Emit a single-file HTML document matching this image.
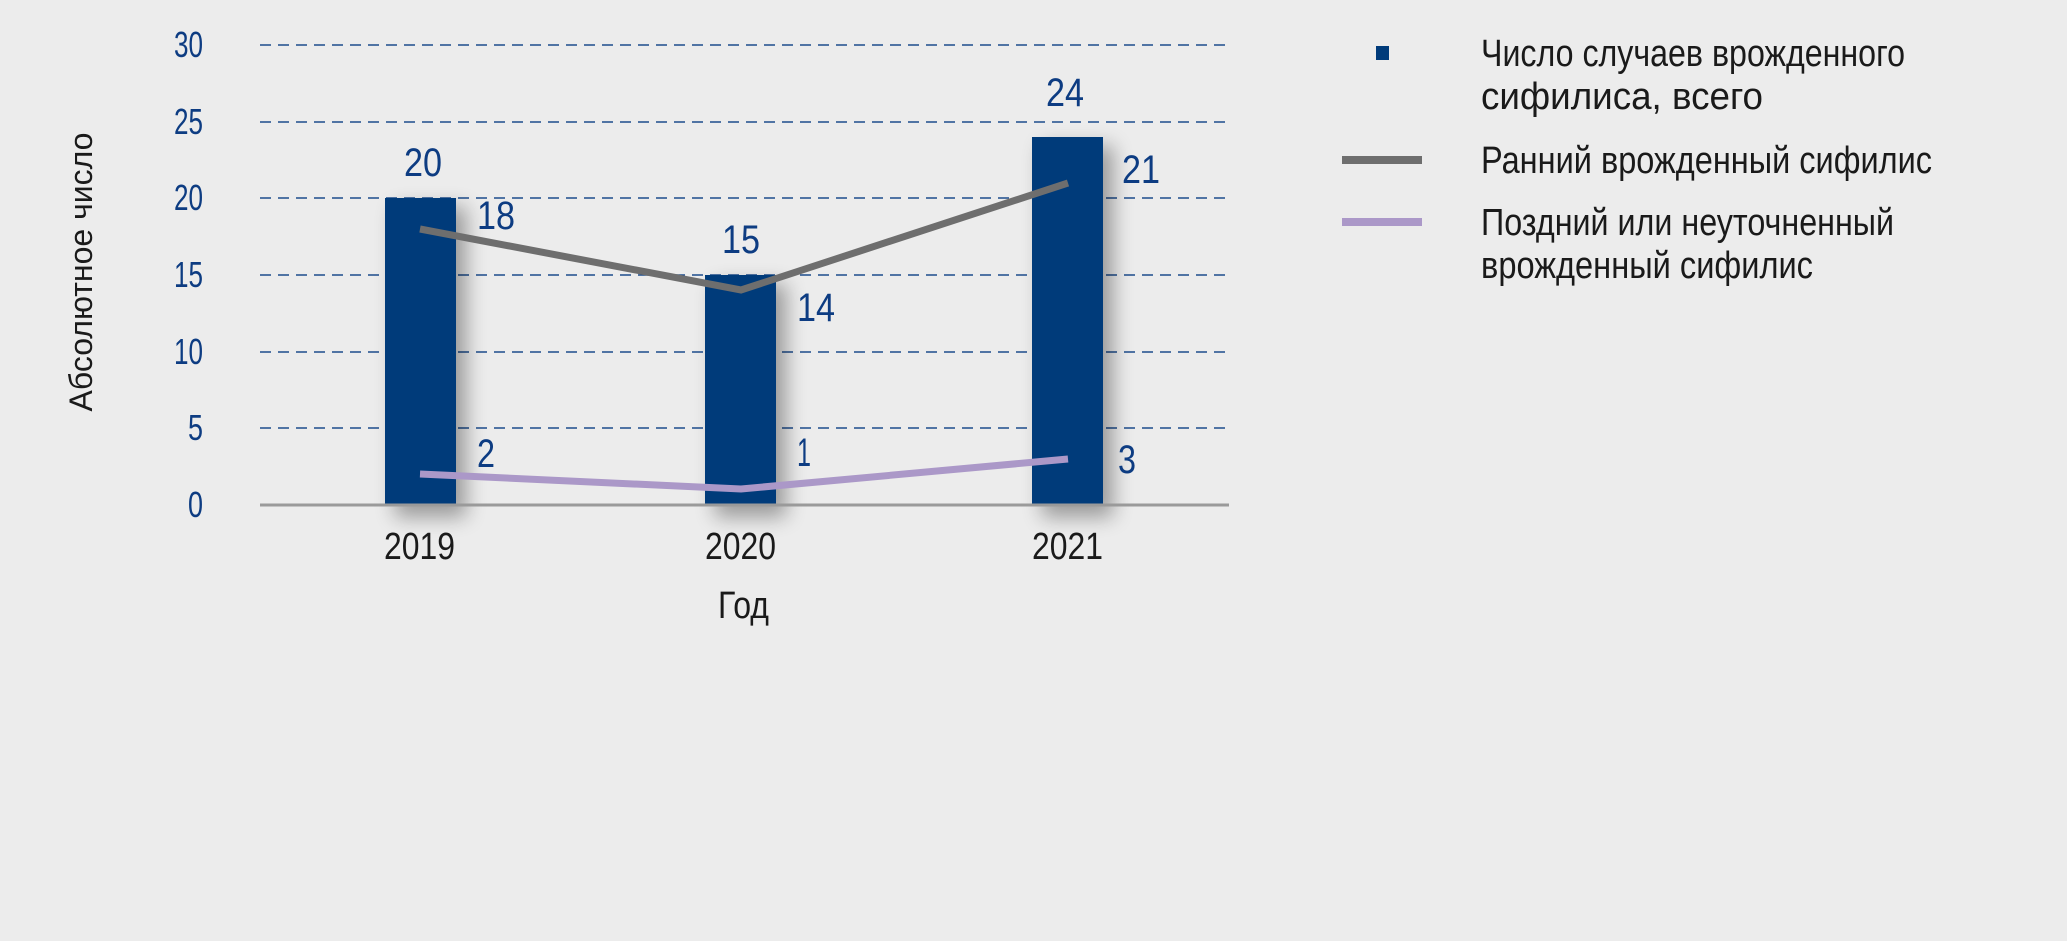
<!DOCTYPE html>
<html><head><meta charset="utf-8"><style>
body{margin:0;background:#ececec;}
svg{display:block}
.n{font-family:"Liberation Sans",sans-serif;}
</style></head><body>
<svg width="2067" height="941" viewBox="0 0 2067 941" xmlns="http://www.w3.org/2000/svg">
<defs><filter id="sh" x="-100%" y="-20%" width="300%" height="140%"><feGaussianBlur stdDeviation="10"/></filter></defs>
<rect width="2067" height="941" fill="#ececec"/>
<g stroke="#1d4c8c" stroke-width="1.6" stroke-dasharray="11,7">
<line x1="260" x2="1227" y1="45" y2="45"/><line x1="260" x2="1227" y1="122" y2="122"/>
<line x1="260" x2="1227" y1="198" y2="198"/><line x1="260" x2="1227" y1="275" y2="275"/>
<line x1="260" x2="1227" y1="352" y2="352"/><line x1="260" x2="1227" y1="428" y2="428"/>
</g>
<g fill="#000" opacity="0.35" filter="url(#sh)">
<rect x="395" y="207" width="71" height="310"/><rect x="715" y="284" width="71" height="233"/><rect x="1042" y="146" width="71" height="371"/>
</g>
<g fill="#003b7a">
<rect x="385" y="198" width="71" height="307"/><rect x="705" y="275" width="71" height="230"/><rect x="1032" y="137" width="71" height="368"/>
</g>
<line x1="260" x2="1229" y1="505" y2="505" stroke="#9a9a9a" stroke-width="3"/>
<polyline points="420,229 741,290 1068,183" fill="none" stroke="#6e6e6e" stroke-width="7"/>
<polyline points="420,474 741,489 1068,459" fill="none" stroke="#ab98c8" stroke-width="7"/>
<g class="n" font-size="36" fill="#0d3c82" lengthAdjust="spacingAndGlyphs">
<text x="174" y="57" textLength="29" lengthAdjust="spacingAndGlyphs">30</text>
<text x="174" y="134" textLength="29" lengthAdjust="spacingAndGlyphs">25</text>
<text x="174" y="210" textLength="29" lengthAdjust="spacingAndGlyphs">20</text>
<text x="174" y="287" textLength="29" lengthAdjust="spacingAndGlyphs">15</text>
<text x="174" y="364" textLength="29" lengthAdjust="spacingAndGlyphs">10</text>
<text x="188" y="440" textLength="15" lengthAdjust="spacingAndGlyphs">5</text>
<text x="188" y="517" textLength="15" lengthAdjust="spacingAndGlyphs">0</text>
</g>
<g class="n" font-size="40" fill="#0d3c82">
<text x="404" y="176" textLength="38" lengthAdjust="spacingAndGlyphs">20</text>
<text x="477" y="229" textLength="38" lengthAdjust="spacingAndGlyphs">18</text>
<text x="722" y="253" textLength="38" lengthAdjust="spacingAndGlyphs">15</text>
<text x="797" y="321" textLength="38" lengthAdjust="spacingAndGlyphs">14</text>
<text x="1046" y="106" textLength="38" lengthAdjust="spacingAndGlyphs">24</text>
<text x="1122" y="183" textLength="38" lengthAdjust="spacingAndGlyphs">21</text>
<text x="477" y="467" textLength="18" lengthAdjust="spacingAndGlyphs">2</text>
<text x="797" y="466" textLength="14" lengthAdjust="spacingAndGlyphs">1</text>
<text x="1118" y="473" textLength="18" lengthAdjust="spacingAndGlyphs">3</text>
</g>
<g class="n" font-size="38" fill="#1a1a1a">
<text x="384" y="559" textLength="71" lengthAdjust="spacingAndGlyphs">2019</text>
<text x="705" y="559" textLength="71" lengthAdjust="spacingAndGlyphs">2020</text>
<text x="1032" y="559" textLength="71" lengthAdjust="spacingAndGlyphs">2021</text>
<text x="718" y="618" textLength="51" lengthAdjust="spacingAndGlyphs">Год</text>
</g>
<text transform="translate(92,272) rotate(-90)" text-anchor="middle" font-family="Liberation Sans,sans-serif" font-size="32" fill="#1a1a1a">Абсолютное число</text>
<rect x="1376" y="46" width="13" height="14" fill="#003b7a"/>
<line x1="1342" x2="1422" y1="160" y2="160" stroke="#6e6e6e" stroke-width="8"/>
<line x1="1342" x2="1422" y1="222" y2="222" stroke="#ab98c8" stroke-width="8"/>
<g class="n" font-size="38" fill="#1a1a1a">
<text x="1481" y="66" textLength="424" lengthAdjust="spacingAndGlyphs">Число случаев врожденного</text>
<text x="1481" y="109" textLength="282" lengthAdjust="spacingAndGlyphs">сифилиса, всего</text>
<text x="1481" y="173" textLength="451" lengthAdjust="spacingAndGlyphs">Ранний врожденный сифилис</text>
<text x="1481" y="235" textLength="413" lengthAdjust="spacingAndGlyphs">Поздний или неуточненный</text>
<text x="1481" y="278" textLength="332" lengthAdjust="spacingAndGlyphs">врожденный сифилис</text>
</g>
</svg>
</body></html>
